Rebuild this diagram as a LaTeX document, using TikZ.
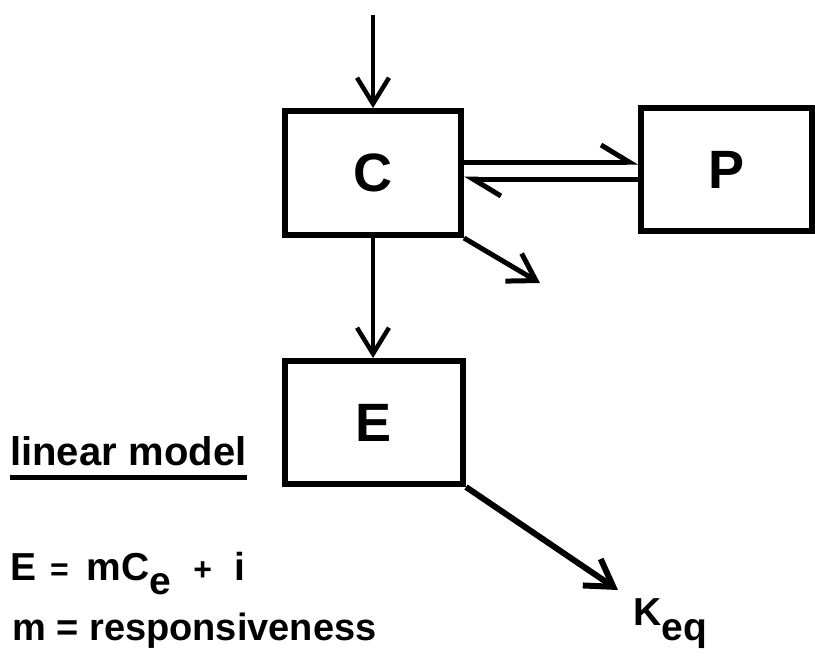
\documentclass[tikz,border=0pt]{standalone}
\usepackage{fontspec}
\setmainfont{Liberation Sans}
\usetikzlibrary{arrows.meta}

\begin{document}
\begin{tikzpicture}[x=1pt, y=-1pt,
	block/.style={draw, line width=6pt, minimum width=176pt, minimum height=124pt, inner sep=0pt, font=\fontsize{54}{54}\selectfont\bfseries},
	flow/.style={line width=4.5pt, -{Straight Barb[length=26pt, width=32pt]}},
	half/.style={line width=5pt, -{Straight Barb[harpoon, length=28pt, width=34pt]}},
	txt/.style={anchor=base west, inner sep=0pt, font=\fontsize{39}{39}\selectfont\bfseries}]
	\useasboundingbox (0,0) rectangle (815,657);
	\node[block] (C) at (373,173) {C};
	\node[block, minimum width=171pt, minimum height=123pt] (P) at (726.5,169.5) {P};
	\node[block, minimum width=178pt, minimum height=123pt] (E) at (374,422.5) {E};
	\coordinate (feed) at (373,15);
	\coordinate (loss) at (540,283);
	\coordinate (keqtip) at (618,590);
	\node[txt, font=\fontsize{40}{40}\selectfont\bfseries] (lin) at (10,465) {linear\hspace{12pt}model};
	\node[txt] (eq) at (10,580) {E\hspace{14pt}{\fontsize{32}{32}\selectfont =}\hspace{18pt}mC\raisebox{-14pt}{e}\hspace{22pt}{\fontsize{32}{32}\selectfont +}\hspace{22pt}i};
	\node[txt, font=\fontsize{38}{38}\selectfont\bfseries] (resp) at (12,640) {m = responsiveness};
	\node[txt] (keq) at (633,625) {K\raisebox{-15pt}{eq}};
	\draw[flow] (feed) -- (C);
	\draw[flow] (C.south) -- (C.south |- E.north);
	\draw[half] ([yshift=11pt]C.east) -- ([yshift=11pt]C.east -| P.west);
	\draw[half] ([yshift=-6pt]C.east -| P.west) -- ([yshift=-6pt]C.east);
	\draw[flow, line width=5pt] (C.south east) -- (loss);
	\draw[flow, line width=6pt] (E.south east) -- (keqtip);
	\draw[line width=5pt] ([yshift=-12pt]lin.base west) -- ([yshift=-12pt]lin.base east);
\end{tikzpicture}
\end{document}
